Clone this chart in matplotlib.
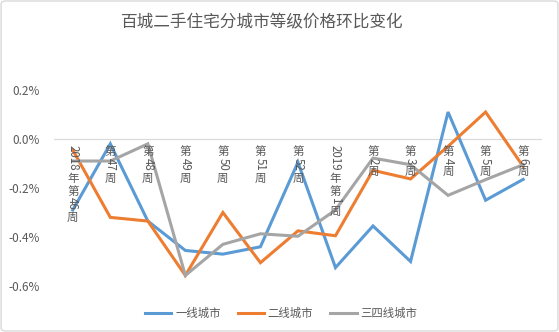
import re
import numpy as np
import matplotlib
matplotlib.use("Agg")
import matplotlib.pyplot as plt
from matplotlib.patches import FancyBboxPatch

plt.rcParams['font.family'] = ['Noto Sans CJK SC', 'DejaVu Sans']

# 周度环比（%）
weeks = ["2018年第46周", "第47周", "第48周", "第49周", "第50周", "第51周", "第52周",
         "2019年第1周", "第2周", "第3周", "第4周", "第5周", "第6周"]
tier1 = [-0.29, -0.02, -0.335, -0.455, -0.47, -0.44, -0.095,
         -0.525, -0.355, -0.50, 0.11, -0.25, -0.165]
tier2 = [-0.045, -0.32, -0.335, -0.557, -0.30, -0.505, -0.375,
         -0.395, -0.128, -0.163, -0.03, 0.11, -0.112]
tier34 = [-0.09, -0.09, -0.02, -0.557, -0.43, -0.387, -0.397,
          -0.29, -0.078, -0.105, -0.23, -0.166, -0.105]
series = [("一线城市", tier1, "#5B9BD5"),
          ("二线城市", tier2, "#ED7D31"),
          ("三四线城市", tier34, "#A5A5A5")]
yticks = [0.2, 0.0, -0.2, -0.4, -0.6]

txt = "#595959"

fig = plt.figure(figsize=(5.59, 3.32), dpi=100)
fig.patches.append(FancyBboxPatch((0.002, 0.003), 0.996, 0.994, boxstyle="round,pad=0,rounding_size=0.008",
                                  transform=fig.transFigure, fill=False, ec="#D9D9D9", lw=1.0))
ax = fig.add_axes([0.0966, 0.1386, 0.8728, 0.5904])

x = np.arange(len(weeks))
for name, vals, col in series:
    ax.plot(x, vals, color=col, lw=2.2, label=name, solid_joinstyle='miter')

ax.set_xlim(-0.5, len(weeks) - 0.5)
ax.set_ylim(-0.6, 0.2)
ax.axhline(0, color="#D9D9D9", lw=0.8, zorder=0)
for s in ax.spines.values():
    s.set_visible(False)
ax.set_xticks([])
ax.set_yticks(yticks)
ax.set_yticklabels([f"{v:.1f}%" for v in yticks])
ax.tick_params(axis='y', length=0, labelsize=8.5, labelcolor=txt, pad=10)


def vlabel(ax, xi, text, fs=8.3):
    # 竖排：汉字直立，数字旋转
    off = 4.5
    for run in re.findall(r'[0-9A-Za-z]+|.', text):
        if run.isascii():
            ax.annotate(run, (xi, 0), xytext=(0, -off), textcoords='offset points',
                        rotation=-90, ha='center', va='top', fontsize=fs, color=txt)
            off += len(run) * 0.56 * fs + 0.8
        else:
            ax.annotate(run, (xi, 0), xytext=(0, -off), textcoords='offset points',
                        ha='center', va='top', fontsize=fs, color=txt)
            off += fs * 1.08


for xi, w in zip(x, weeks):
    vlabel(ax, xi, w)

fig.text(0.469, 0.93, "百城二手住宅分城市等级价格环比变化", ha='center', va='center',
         fontsize=12, color=txt)
fig.legend(loc='center', bbox_to_anchor=(0.503, 0.057), ncol=3, frameon=False,
           fontsize=8.2, labelcolor=txt, handlelength=2.3, columnspacing=1.5, handletextpad=0.35)

fig.savefig("out.png", dpi=100)
